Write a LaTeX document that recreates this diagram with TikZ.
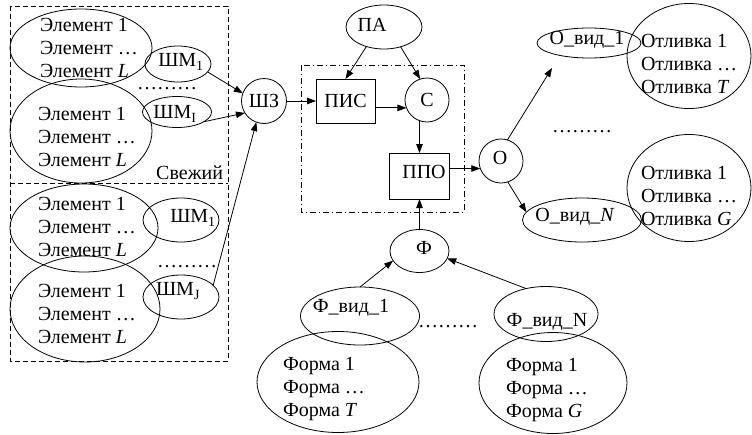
\documentclass[tikz,border=0pt]{standalone}
\usepackage{fontspec}
\setmainfont{Liberation Serif}
\usetikzlibrary{arrows.meta,calc,shapes.geometric}
\begin{document}
\begin{tikzpicture}[x=1pt,y=-1pt,
  every node/.style={font=\fontsize{20}{23}\selectfont, inner sep=0pt, outer sep=0pt},
  oval/.style={draw, ellipse, line width=0.8pt},
  ring/.style={draw, circle, line width=0.8pt, minimum size=44pt},
  blk/.style={draw, rectangle, line width=0.8pt},
  txt/.style={align=left},
  arr/.style={-{Triangle[length=9pt,width=6.5pt]}, line width=0.8pt},
  frame/.style={line width=0.8pt, dash pattern=on 5pt off 3pt},
  dashdot/.style={line width=0.8pt, dash pattern=on 6pt off 3pt on 1pt off 3pt},
  dotrow/.style={anchor=base west}]
\useasboundingbox (0,0) rectangle (752,434);

% storage frame: fresh part on top, the rest below
\draw[frame] (10,6) rectangle (228,361);
\draw[frame] (10,183) -- (228,183);
\node[anchor=east] (fresh) at (223,173) {Свежий};

% element groups
\node[oval, minimum width=142pt, minimum height=78pt]  (e1) at (81,48) {};
\node[txt, anchor=west] (e1t) at (40,48) {Элемент 1\\Элемент …\\Элемент \textit{L}};
\node[oval, minimum width=142pt, minimum height=104pt] (e2) at (81,131) {};
\node[txt, anchor=west] (e2t) at (38,137) {Элемент 1\\Элемент …\\Элемент \textit{L}};
\node[oval, minimum width=148pt, minimum height=88pt]  (e3) at (84,228) {};
\node[txt, anchor=west] (e3t) at (38,227) {Элемент 1\\Элемент …\\Элемент \textit{L}};
\node[oval, minimum width=150pt, minimum height=106pt] (e4) at (85,309) {};
\node[txt, anchor=west] (e4t) at (38,314) {Элемент 1\\Элемент …\\Элемент \textit{L}};

% charge mixes
\node[oval, minimum width=66pt, minimum height=36pt] (sm1) at (178,64) {};
\node (sm1t) at (181,62) {ШМ\textsubscript{1}};
\node[oval, minimum width=69pt, minimum height=31pt] (smI) at (177,112) {};
\node (smIt) at (175,114) {ШМ\textsubscript{I}};
\node[oval, minimum width=76pt, minimum height=44pt] (sm1b) at (181,220) {};
\node (sm1bt) at (193,218) {ШМ\textsubscript{1}};
\node[oval, minimum width=76pt, minimum height=44pt] (smJ) at (181,297) {};
\node (smJt) at (178,291) {ШМ\textsubscript{J}};

\node[dotrow] (d1) at (137,89) {………};
\node[dotrow] (d2) at (157,267) {………};

% central process
\node[ring, minimum size=45pt] (shz) at (264,101) {ШЗ};
\draw[dashdot] (301,65) rectangle (464,212);
\node[blk, minimum width=59pt, minimum height=44pt] (pis) at (345.5,101) {ПИС};
\node[oval, minimum width=76pt, minimum height=44pt] (pa) at (384,27) {};
\node (pat) at (372,25) {ПА};
\node[ring] (c) at (427,100) {С};
\node[blk, minimum width=60pt, minimum height=46pt] (ppo) at (419.5,176) {};
\node (ppot) at (424,172) {ППО};
\node[ring] (o) at (501,161) {};
\node (ot0) at (500,158) {О};
\node[oval, minimum width=59pt, minimum height=43pt] (phi) at (419.5,251) {};
\node (phit) at (424,248) {Ф};

% moulds
\node[oval, minimum width=119pt, minimum height=58pt] (fv1) at (360,316) {};
\node (fv1t) at (351,308) {Ф\_вид\_1};
\node[oval, minimum width=162pt, minimum height=101pt] (ft) at (338,382) {};
\node[txt, anchor=west] (ftt) at (283,389) {Форма 1\\Форма …\\Форма \textit{T}};
\node[oval, minimum width=104pt, minimum height=55pt] (fvN) at (546,314) {};
\node (fvNt) at (547,322) {Ф\_вид\_N};
\node[oval, minimum width=148pt, minimum height=101pt] (fg) at (553,383) {};
\node[txt, anchor=west] (fgt) at (506,390) {Форма 1\\Форма …\\Форма \textit{G}};
\node[dotrow] (d4) at (418,327) {………};

% castings
\node[oval, minimum width=104pt, minimum height=30pt] (ov1) at (589,43) {};
\node (ov1t) at (587,40) {О\_вид\_1};
\node[oval, minimum width=124pt, minimum height=105pt] (otl) at (689,56) {};
\node[txt, anchor=west] (otlt) at (641,64) {Отливка 1\\Отливка …\\Отливка \textit{T}};
\node[oval, minimum width=119pt, minimum height=44pt] (ovN) at (582,220) {};
\node (ovNt) at (575,217) {О\_вид\_\textit{N}};
\node[oval, minimum width=124pt, minimum height=107pt] (og) at (689,188) {};
\node[txt, anchor=west] (ogt) at (641,196) {Отливка 1\\Отливка …\\Отливка \textit{G}};
\node[dotrow] (d3) at (552,132) {………};

% connectors
\draw[arr] (sm1.345) -- (shz.160);
\draw[arr] (smI.340) -- (shz.212);
\draw[arr] (smJ.20) -- (shz.250);
\draw[arr] (shz) -- (pis);
\draw[arr] (pa.228) -- (pis.north);
\draw[arr] (pa.310) -- (c.108);
\draw[arr] (pis.east |- c.201) -- (c.201);
\draw[arr] (c.250) -- (c.250 |- ppo.north);
\draw[arr] (ppo.east |- o.200) -- (o.200);
\draw[arr] (phi) -- (ppo);
\draw[arr] (fv1.north) -- (phi.200);
\draw[arr] (fvN.128) -- (phi.345);
\coordinate (ov1in) at (552,68);
\draw[arr] (o.73) -- (ov1in);
\draw[arr] (o.288) -- (ovN.172);
\end{tikzpicture}
\end{document}
